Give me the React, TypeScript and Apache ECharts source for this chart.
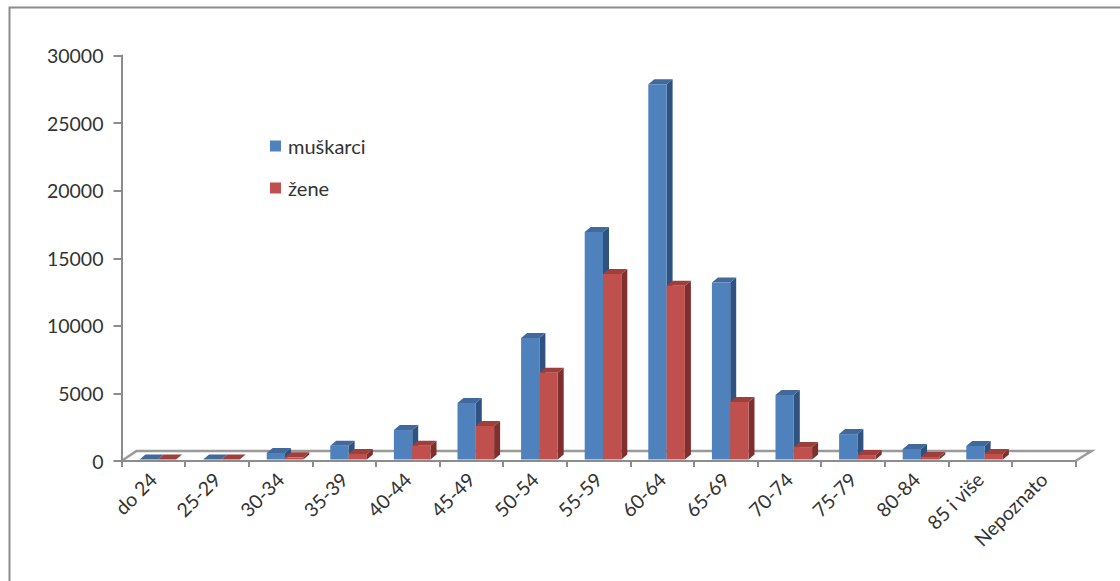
import React, { useEffect, useRef } from "react";
import * as echarts from "echarts";

const categories = ["do 24", "25-29", "30-34", "35-39", "40-44", "45-49", "50-54", "55-59", "60-64", "65-69", "70-74", "75-79", "80-84", "85 i više", "Nepoznato"];
const muskarci = [60, 100, 590, 1130, 2290, 4290, 9100, 16950, 27870, 13200, 4880, 1990, 890, 1110, 0];
const zene = [30, 60, 270, 520, 1130, 2590, 6530, 13840, 12970, 4370, 1030, 440, 300, 520, 0];
const yTicks = { min: 0, max: 30000, interval: 5000 };

const GRID = { left: 121.5, top: 55.5, width: 954, height: 405.5 };
const BAR_W = 18.3;
const DX = 6;
const DY = 5;
const FONT = "Lato, 'Open Sans', sans-serif";

const palette = {
  blue: { front: "#4f81bd", top: "#41699c", side: "#2f5380" },
  red: { front: "#c0504d", top: "#9e3f3c", side: "#7f2f2d" },
};

function barRenderer(slot: number, c: { front: string; top: string; side: string }) {
  return (_p: any, api: any) => {
    const i = api.value(0);
    const v = api.value(1);
    if (v <= 0) return { type: "group", children: [] };
    const base = api.coord([i, 0]);
    const top = api.coord([i, v]);
    const bandW = api.size([1, 0])[0];
    const x0 = base[0] - bandW / 2 + 18 + slot * BAR_W;
    const x1 = x0 + BAR_W;
    const yb = base[1] - 1.5;
    const yt = Math.min(top[1], yb);
    return {
      type: "group",
      children: [
        { type: "polygon", shape: { points: [[x1, yt], [x1 + DX, yt - DY], [x1 + DX, yb - DY], [x1, yb]] }, style: { fill: c.side } },
        { type: "polygon", shape: { points: [[x0, yt], [x0 + DX, yt - DY], [x1 + DX, yt - DY], [x1, yt]] }, style: { fill: c.top } },
        { type: "rect", shape: { x: x0, y: yt, width: BAR_W, height: yb - yt }, style: { fill: c.front } },
      ],
    };
  };
}

export default function App() {
  const ref = useRef<HTMLDivElement>(null);
  useEffect(() => {
    const chart = echarts.init(ref.current!, undefined, { renderer: "svg" });
    const bottom = GRID.top + GRID.height;
    const right = GRID.left + GRID.width;
    chart.setOption({
      animation: false,
      backgroundColor: "#ffffff",
      textStyle: { fontFamily: FONT },
      grid: { left: GRID.left, top: GRID.top, width: GRID.width, height: GRID.height, containLabel: false },
      legend: {
        left: 265,
        top: 131,
        orient: "vertical",
        itemWidth: 11,
        itemHeight: 11,
        itemGap: 22,
        icon: "rect",
        textStyle: { fontFamily: FONT, fontSize: 20, color: "#333333", padding: [0, 0, 0, 2] },
        data: ["muškarci", "žene"],
      },
      xAxis: {
        type: "category",
        data: categories,
        z: 5,
        axisLine: { lineStyle: { color: "#8c8c8c", width: 2 } },
        axisTick: { show: true, length: 6, alignWithLabel: false, lineStyle: { color: "#8c8c8c", width: 2 } },
        axisLabel: { interval: 0, rotate: 45, margin: 15, fontFamily: FONT, fontSize: 19.5, color: "#333333" },
        splitLine: { show: false },
      },
      yAxis: {
        type: "value",
        ...yTicks,
        z: 5,
        axisLine: { show: true, lineStyle: { color: "#8c8c8c", width: 2 } },
        axisTick: { show: true, length: 8, lineStyle: { color: "#8c8c8c", width: 2 } },
        axisLabel: { margin: 18, fontFamily: FONT, fontSize: 19.5, color: "#333333", formatter: (v: number) => String(v) },
        splitLine: { show: false },
      },
      graphic: [
        { type: "polyline", z: -1, shape: { points: [[9.5, 581], [9.5, 7.5], [1120, 7.5]] }, style: { stroke: "#8c8c8c", lineWidth: 2, fill: "none" } },
        { type: "polyline", z: -1, shape: { points: [[GRID.left, bottom], [GRID.left + 15, bottom - 10], [right + 16, bottom - 10], [right, bottom]] }, style: { stroke: "#9a9a9a", lineWidth: 2.5, fill: "#ffffff" } },
      ],
      series: [
        { type: "custom", name: "muškarci", z: 3, itemStyle: { color: palette.blue.front }, encode: { x: 0, y: 1 }, data: muskarci.map((v, i) => [i, v]), renderItem: barRenderer(0, palette.blue) },
        { type: "custom", name: "žene", z: 4, itemStyle: { color: palette.red.front }, encode: { x: 0, y: 1 }, data: zene.map((v, i) => [i, v]), renderItem: barRenderer(1, palette.red) },
      ],
    });
    return () => chart.dispose();
  }, []);
  return <div ref={ref} style={{ position: "fixed", left: 0, top: 0, width: 1120, height: 581 }} />;
}
